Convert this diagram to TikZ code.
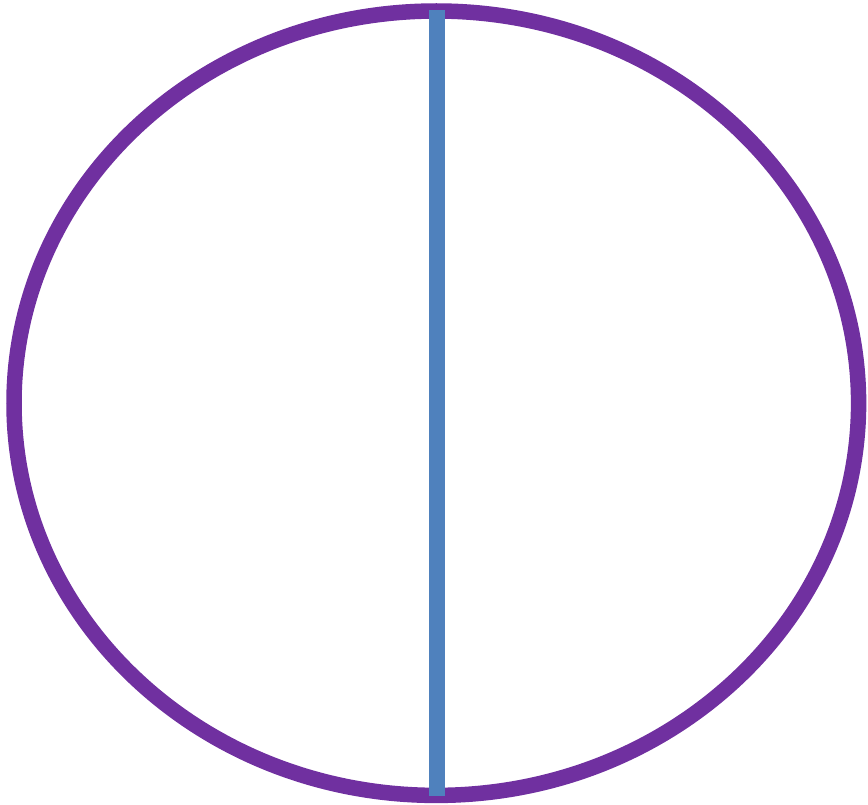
\documentclass[tikz,border=0pt]{standalone}
\definecolor{ringpurple}{HTML}{7030A0}
\definecolor{lineblue}{HTML}{4F81BD}
\begin{document}
\begin{tikzpicture}[x=1pt,y=-1pt,
  ring/.style={draw=ringpurple,line width=15.5pt},
  bar/.style={draw=lineblue,line width=16pt}]
\useasboundingbox (0,0) rectangle (868,805);
\draw[ring] (436.3,403.2) ellipse [x radius=422.3, y radius=392.2];
\coordinate (top) at (436.7,10);
\coordinate (bot) at (436.7,796.3);
\draw[bar] (top) -- (bot);
\end{tikzpicture}
\end{document}
